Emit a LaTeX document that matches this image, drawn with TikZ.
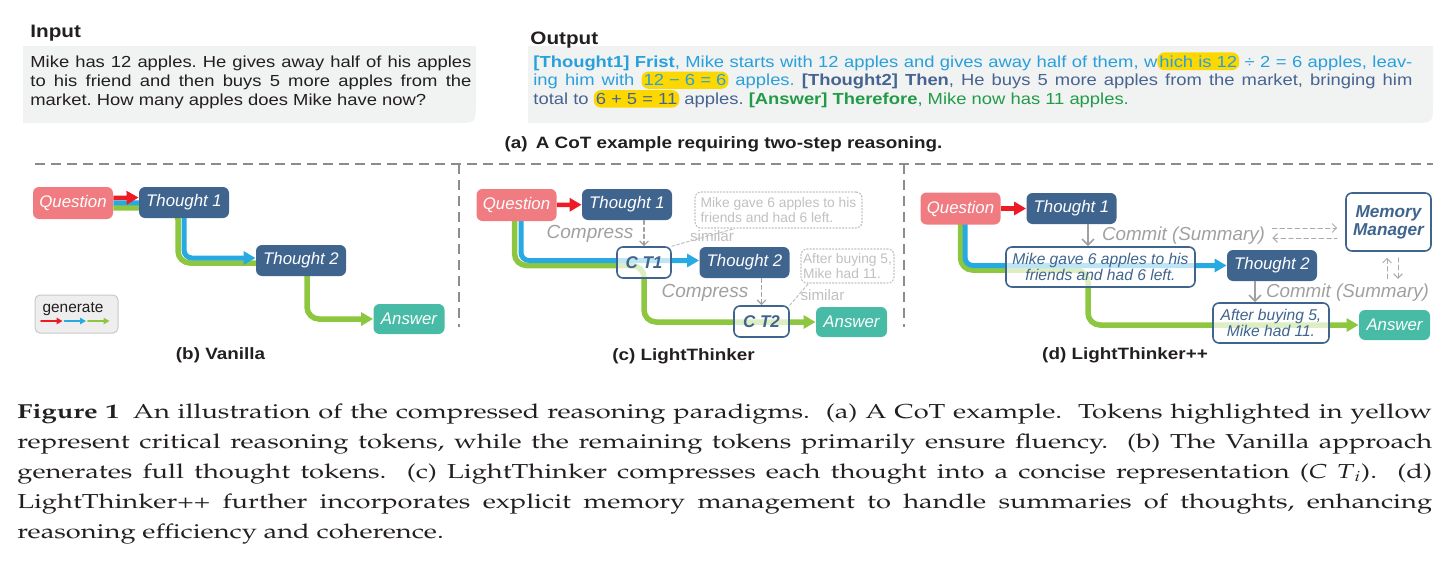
\documentclass[tikz,border=0pt]{standalone}
\usepackage[T1]{fontenc}
\usepackage{fontspec}
\setmainfont{Liberation Sans}
\newfontfamily\figsf{Liberation Sans}
\newfontfamily\widesf[FakeStretch=1.15]{Liberation Sans}
\usepackage{graphicx}
\usetikzlibrary{arrows.meta}
\pgfdeclarelayer{bg}
\pgfsetlayers{bg,main}
\definecolor{qpink}{RGB}{240,124,129}
\definecolor{tblue}{RGB}{63,100,142}
\definecolor{ateal}{RGB}{71,187,165}
\definecolor{ared}{RGB}{237,28,36}
\definecolor{ablue}{RGB}{39,170,225}
\definecolor{agreen}{RGB}{141,198,63}
\definecolor{cgray}{RGB}{160,160,160}
\definecolor{lgray}{RGB}{192,192,192}
\definecolor{mgray}{RGB}{170,170,170}
\definecolor{fgray}{RGB}{140,140,140}
\definecolor{boxgray}{RGB}{241,242,242}
\definecolor{hlyellow}{RGB}{253,216,0}
\definecolor{cotblue}{RGB}{40,160,220}
\definecolor{cotslate}{RGB}{70,100,145}
\definecolor{cotgreen}{RGB}{34,155,72}
\definecolor{txtblack}{RGB}{35,31,32}
\definecolor{leggray}{RGB}{238,238,238}
\definecolor{legborder}{RGB}{200,200,200}
\newcommand{\hlyel}[1]{\tikz[baseline=(hl.base)]\node[fill=hlyellow,rounded corners=3.5pt,text width={},align=center,inner xsep=1pt,inner ysep=1.5pt,outer sep=0pt] (hl) {#1};}

\begin{document}
\begin{tikzpicture}[line cap=round,line join=round,x=0.5pt,y=-0.5pt,
>={Triangle[length=6pt,width=6.5pt]},
barb/.tip={Straight Barb[length=2.2pt,width=4.4pt]},
bigbarb/.tip={Straight Barb[length=3pt,width=6pt]},
pill/.style={rounded corners=3pt,inner sep=0pt,minimum width=45pt,minimum height=15.5pt,text=white,font=\figsf\fontsize{8.4}{10}\selectfont\itshape},
qbox/.style={pill,fill=qpink,minimum width=40pt,minimum height=16pt},
tbox/.style={pill,fill=tblue},
abox/.style={pill,fill=ateal,minimum width=35.5pt,minimum height=15pt},
ctbox/.style={pill,draw=tblue,line width=0.8pt,fill=white,fill opacity=0.7,text opacity=1,text=tblue,minimum width=27pt,font=\figsf\fontsize{8.5}{10}\selectfont\bfseries\itshape},
sumbox/.style={rounded corners=3pt,draw=tblue,line width=0.8pt,fill=white,fill opacity=0.7,text opacity=1,text=tblue,align=center,inner sep=0pt,minimum height=20pt,font=\figsf\fontsize{7.8}{7.9}\selectfont\itshape},
dotbox/.style={rounded corners=3pt,draw=lgray,densely dotted,line width=0.6pt,text=lgray,align=left,inner sep=0pt,minimum height=18pt,font=\figsf\fontsize{6.9}{7.6}\selectfont},
mmbox/.style={rounded corners=3pt,draw=tblue,line width=0.8pt,fill=white,text=tblue,align=center,inner sep=0pt,minimum width=42.5pt,minimum height=29pt,font=\figsf\fontsize{8.6}{9}\selectfont\bfseries\itshape},
legbox/.style={rounded corners=2.5pt,draw=legborder,line width=0.5pt,fill=leggray,minimum width=41.5pt,minimum height=19pt,inner sep=0pt},
legtxt/.style={inner sep=0pt,text=txtblack,font=\figsf\fontsize{7.7}{9}\selectfont},
legarr/.style={line width=0.8pt,-{Triangle[length=3pt,width=3.2pt]}},
cmp/.style={inner sep=0pt,text=cgray,font=\figsf\fontsize{9.5}{11}\selectfont\itshape},
cmt/.style={cmp,font=\figsf\fontsize{9.4}{11}\selectfont\itshape},
sim/.style={inner sep=0pt,text=lgray,font=\figsf\fontsize{7.6}{9}\selectfont},
gline/.style={draw=agreen,line width=2.75pt,rounded corners=6pt,->},
bline/.style={draw=ablue,line width=2.5pt,rounded corners=4pt,->},
rline/.style={draw=ared,line width=2.25pt,->},
cmparr/.style={draw=cgray,line width=0.6pt,dash pattern=on 2pt off 1.5pt,-barb},
cmtarr/.style={draw=cgray,line width=0.8pt,-bigbarb},
memarr/.style={draw=mgray,line width=0.5pt,dash pattern=on 2.2pt off 1.6pt},
simline/.style={draw=lgray,line width=0.5pt,dash pattern=on 1.5pt off 1pt},
dashframe/.style={draw=fgray,line width=0.75pt,dash pattern=on 5pt off 3pt,line cap=butt},
lab/.style={inner sep=0pt,text=txtblack,font=\widesf\fontsize{8.2}{10}\selectfont\bfseries},
head/.style={inner sep=0pt,text=txtblack,font=\widesf\fontsize{9}{11}\selectfont\bfseries},
bodytxt/.style={inner sep=0pt,anchor=base west,align=justify,font=\widesf\fontsize{8}{9.35}\selectfont\frenchspacing}]
\useasboundingbox (0,0) rectangle (1452,573);
\fill[boxgray] (23,46) -- (476,46) -- (476,103) .. controls (476,123) .. (456,123) -- (23,123) -- cycle;
\fill[boxgray] (528,46) -- (1433,46) -- (1433,103) .. controls (1433,123) .. (1413,123) -- (528,123) -- cycle;
\node[head,anchor=base west] (inhead) at (30,38) {Input};
\node[head,anchor=base west] (outhead) at (530,44) {Output};
\node[bodytxt,text width=220.5pt,text=txtblack] (intext) at (30,68) {Mike has 12 apples. He gives away half of his apples\linebreak to his friend and then buys 5 more apples from the\linebreak market. How many apples does Mike have now?};
\node[bodytxt,text width=439.5pt] (outtext) at (533,67) {{\color{cotblue}\textbf{[Thought1] Frist}, Mike starts with 12 apples and gives away half of them, w\hlyel{hich is 12} ÷ 2 = 6 apples, leav-\linebreak ing him with \hlyel{12 − 6 = 6} apples.} {\color{cotslate}\textbf{[Thought2] Then}, He buys 5 more apples from the market, bringing him\linebreak total to \hlyel{6 + 5 = 11} apples.} {\color{cotgreen}\textbf{[Answer] Therefore}, Mike now has 11 apples.}};
\node[lab,anchor=base] (capa) at (723.5,148) {(a)\enspace A CoT example requiring two-step reasoning.};
\draw[dashframe] (35,164) -- (1433,164);
\foreach \x in {459,904}
\draw[dashframe] (\x,164) -- (\x,327);
% (b) vanilla
\node[qbox] (qb) at (73,203) {Question};
\node[tbox] (t1b) at (184,202.5) {Thought 1};
\node[tbox] (t2b) at (301,260.5) {Thought 2};
\node[abox] (ab) at (409,319) {Answer};
\node[legbox] (leg) at (76.5,314) {};
\node[legtxt,anchor=base] (legt) at (73,312) {generate};
\foreach \c [count=\i from 0] in {ared,ablue,agreen}
\draw[legarr,draw=\c] ({41+23.5*\i},321) -- ++(21.5,0);
\node[lab,anchor=base] (labb) at (220.5,359) {(b) Vanilla};
% (c) lightthinker
\node[qbox] (qc) at (516.5,205) {Question};
\node[tbox] (t1c) at (627,204.5) {Thought 1};
\node[dotbox,minimum width=83.5pt] (d1c) at (778.5,210) {Mike gave 6 apples to his\\friends and had 6 left.};
\node[ctbox] (ct1) at (644,262.5) {C T1};
\node[tbox] (t2c) at (744.5,262.5) {Thought 2};
\node[dotbox,minimum width=46.5pt,minimum height=17pt] (d2c) at (847.5,266) {After buying 5,\\Mike had 11.};
\node[ctbox,minimum width=27.5pt] (ct2) at (761.5,321.5) {C T2};
\node[abox] (ac) at (851.5,322) {Answer};
\node[cmp,anchor=base] (cp1) at (590,238) {Compress};
\node[cmp,anchor=base] (cp2) at (705,297) {Compress};
\node[sim,anchor=base] (sm1) at (712,241) {similar};
\node[sim,anchor=base] (sm2) at (822.5,300) {similar};
\draw[cmparr] (ct1.north |- t1c.south) -- (ct1.north);
\draw[cmparr] (ct2.north |- t2c.south) -- (ct2.north);
\draw[simline] (ct1.north east) -- ([xshift=20pt]d1c.south west);
\draw[simline] (ct2.north east) -- ([xshift=4pt]d2c.south west);
\node[lab,anchor=base] (labc) at (683.5,360) {(c) LightThinker};
% (d) lightthinker++
\node[qbox] (qd) at (960.5,208.5) {Question};
\node[tbox] (t1d) at (1071.5,208.5) {Thought 1};
\node[sumbox,minimum width=94.5pt] (s1d) at (1100.5,267) {Mike gave 6 apples to his\\friends and had 6 left.};
\node[tbox] (t2d) at (1272,265.5) {Thought 2};
\node[sumbox,minimum width=58pt] (s2d) at (1271,323) {After buying 5,\\Mike had 11.};
\node[abox] (ad) at (1394.5,325) {Answer};
\node[mmbox] (mm) at (1388.5,222) {Memory\\Manager};
\node[cmt,anchor=base] (cm1) at (1183.5,240) {Commit (Summary)};
\node[cmt,anchor=base] (cm2) at (1347.5,297) {Commit (Summary)};
\coordinate (c1) at ([xshift=8.25pt]t1d.south);
\coordinate (c2) at ([xshift=-8.5pt]t2d.south);
\draw[cmtarr] (c1) -- (c1 |- s1d.north);
\draw[cmtarr] (c2) -- (c2 |- s2d.north);
\coordinate (cmr) at ([xshift=3.5pt]cm1.east);
\coordinate (mmw1) at ([xshift=-4pt,yshift=-3pt]mm.west);
\coordinate (mmw2) at ([xshift=-4pt,yshift=-8pt]mm.west);
\draw[memarr,-barb] (cmr |- mmw1) -- (mmw1);
\draw[memarr,barb-] (cmr |- mmw2) -- (mmw2);
\coordinate (mms1) at ([xshift=-0.75pt,yshift=-3pt]mm.south);
\coordinate (mmb1) at ([xshift=-0.75pt,yshift=-13.5pt]mm.south);
\coordinate (mms2) at ([xshift=4.75pt,yshift=-3pt]mm.south);
\coordinate (mmb2) at ([xshift=4.75pt,yshift=-13.5pt]mm.south);
\draw[memarr,barb-] (mms1) -- (mmb1);
\draw[memarr,-barb] (mms2) -- (mmb2);
\node[lab,anchor=base] (labd) at (1125,359) {(d) LightThinker++};
\begin{pgfonlayer}{bg}
\draw[gline] ([yshift=-2.5pt]qb.east) -- ([xshift=-3pt,yshift=-2.5pt]t1b.center) |- ([xshift=3pt,yshift=-1.25pt]t2b.center) |- (ab.west);
\draw[bline] (qb.east) -- (t1b.center) |- ([yshift=1.25pt]t2b.west);
\draw[rline] ([yshift=2.5pt]qb.east) -- ([yshift=2.5pt]t1b.west);
\draw[gline] ([xshift=-1pt]qc.center) |- ([yshift=-1.5pt]ct1.center) |- (ac.west);
\draw[bline] ([xshift=2.25pt]qc.center) |- ([yshift=1pt]t2c.west);
\draw[rline] (qc) -- (t1c);
\draw[gline] (qd.center) |- ([xshift=-6.25pt,yshift=-1.5pt]s1d.center) |- (ad.west);
\draw[bline] ([xshift=2.25pt]qd.center) |- (t2d.west);
\draw[rline] (qd) -- (t1d);
\end{pgfonlayer}
\node[anchor=base west,inner sep=0pt,text=txtblack] (caption) at (17,418) {\scalebox{1.35}[1]{\parbox[t]{524pt}{\fontencoding{T1}\fontfamily{ppl}\fontsize{10.1}{15}\selectfont\frenchspacing\hyphenpenalty=10000 \textbf{Figure 1}\enspace An illustration of the compressed reasoning paradigms.\ \ (a) A CoT example.\ \ Tokens highlighted in yellow\linebreak represent critical reasoning tokens, while the remaining tokens primarily ensure fluency.\ \ (b) The Vanilla approach\linebreak generates full thought tokens.\ \ (c) LightThinker compresses each thought into a concise representation (\textit{C T}\textsubscript{\textit{i}}).\ \ (d)\linebreak LightThinker++ further incorporates explicit memory management to handle summaries of thoughts, enhancing\linebreak reasoning efficiency and coherence.}}};
\end{tikzpicture}
\end{document}
